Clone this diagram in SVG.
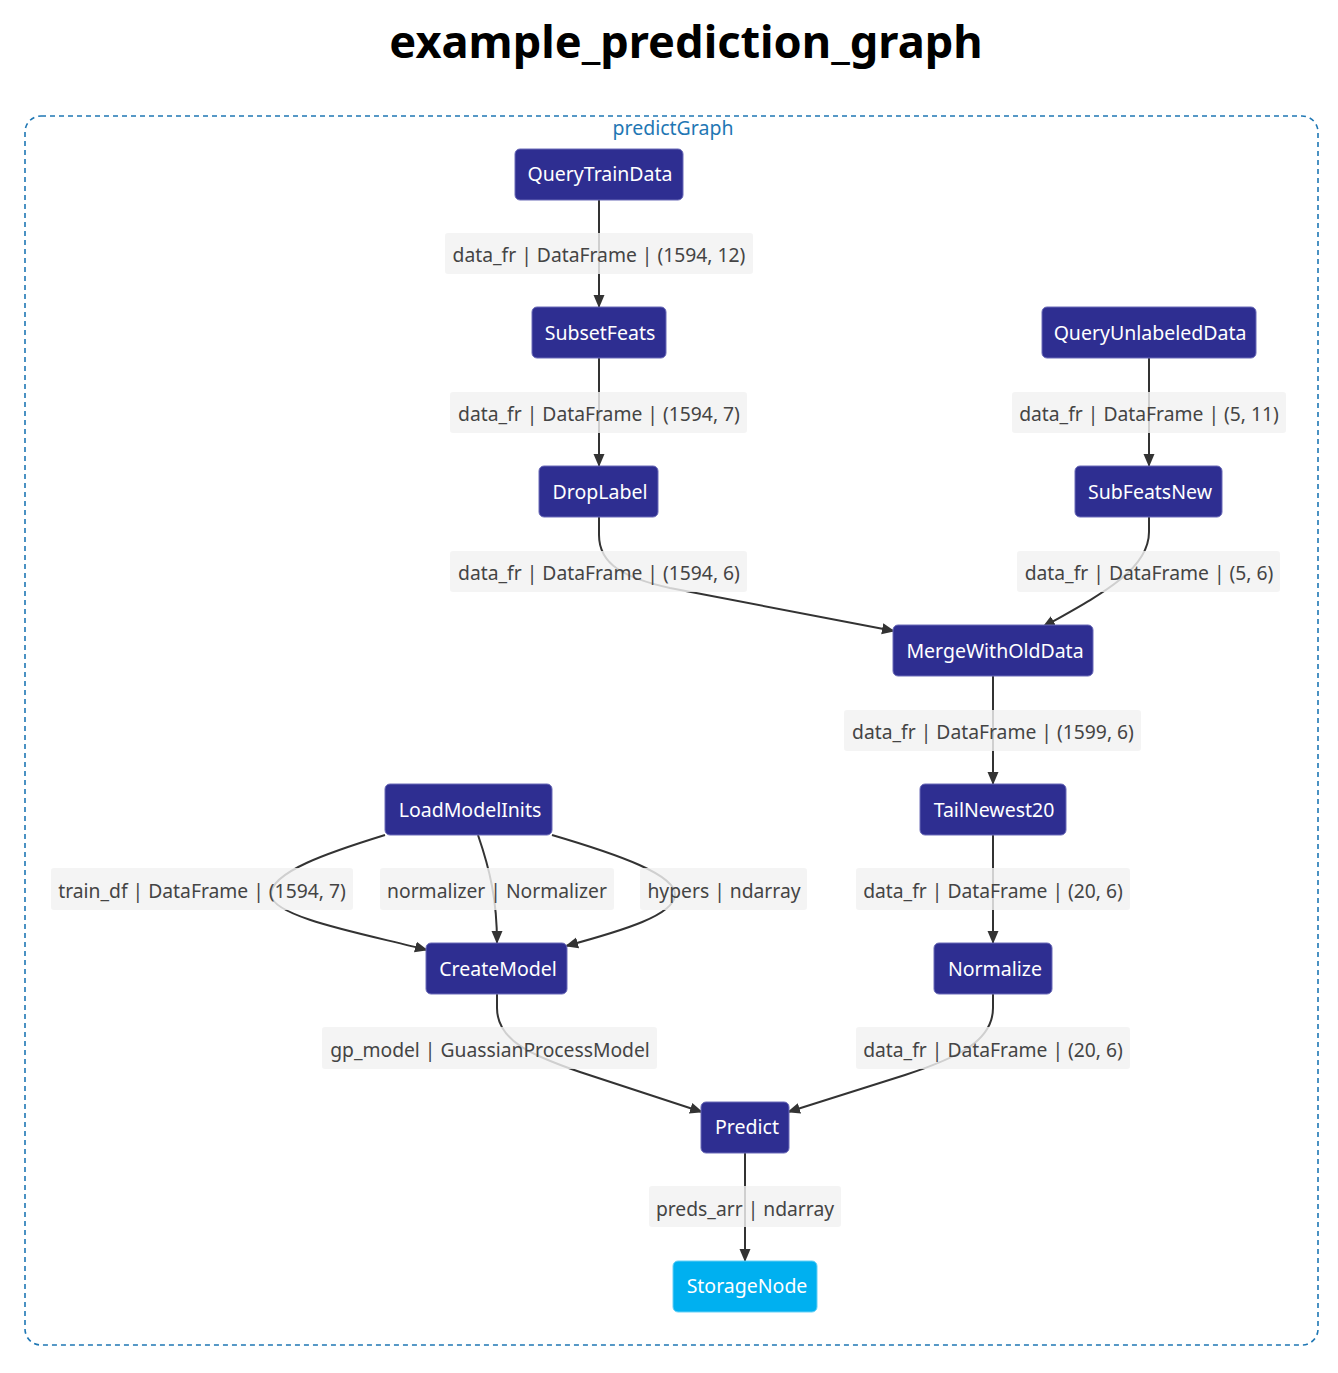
<svg xmlns="http://www.w3.org/2000/svg" width="1338" height="1373" viewBox="0 0 1338 1373">
<style>
.title{font-family:"Noto Sans","Open Sans",sans-serif;font-weight:bold;font-size:45.2px;fill:#000;text-anchor:middle}
.cl{font-family:"Noto Sans","Open Sans",sans-serif;font-size:19.5px;fill:#1f77b4;text-anchor:middle}
.node rect{fill:#2e2e91;stroke:#6a6ab8;stroke-width:1}
.node text{font-family:"Noto Sans","Open Sans",sans-serif;font-size:19.5px;fill:#fff;text-anchor:middle;dominant-baseline:central}
.store rect{fill:#00b0f0;stroke:#66d0f6}
.edge{fill:none;stroke:#333;stroke-width:2}
.lbl rect{fill:#f2f2f2;fill-opacity:0.82}
.lbl text{font-family:"Noto Sans","Open Sans",sans-serif;font-size:19.3px;fill:#444;text-anchor:middle;dominant-baseline:central}
</style>
<defs>
<marker id="arr" viewBox="0 0 13 13" refX="12" refY="6.5" markerWidth="13" markerHeight="13" markerUnits="userSpaceOnUse" orient="auto">
<path d="M0,1 L13,6.5 L0,12 z" fill="#333"/>
</marker>
</defs>
<rect width="1338" height="1373" fill="#fff"/>
<text class="title" x="686" y="58">example_prediction_graph</text>
<g id="cluster-predictGraph">
<rect x="25" y="116" width="1293" height="1229" rx="16" fill="none" stroke="#1f77b4" stroke-width="1.6" stroke-dasharray="5,4"/>
<text class="cl" x="673" y="135">predictGraph</text>
</g>
<g id="connectors">
<path class="edge" marker-end="url(#arr)" d="M599,199 V307"/>
<path class="edge" marker-end="url(#arr)" d="M599,358 V466"/>
<path class="edge" marker-end="url(#arr)" d="M1149,358 V466"/>
<path class="edge" marker-end="url(#arr)" d="M599,517 V535 C599,565 625,578 670,588 L894,631"/>
<path class="edge" marker-end="url(#arr)" d="M1149,517 V532 C1149,570 1100,595 1043,627"/>
<path class="edge" marker-end="url(#arr)" d="M993,676 V784"/>
<path class="edge" marker-end="url(#arr)" d="M385,835 C330,852 270,872 271,895 C273,918 370,935 427,950"/>
<path class="edge" marker-end="url(#arr)" d="M478,835 C490,870 497,900 497,943"/>
<path class="edge" marker-end="url(#arr)" d="M552,835 C620,855 676,875 675,895 C674,915 625,930 566,946"/>
<path class="edge" marker-end="url(#arr)" d="M993,835 V943"/>
<path class="edge" marker-end="url(#arr)" d="M497,994 V1008 C497,1040 530,1055 580,1072 L702,1112"/>
<path class="edge" marker-end="url(#arr)" d="M993,994 V1008 C993,1040 960,1057 905,1075 L788,1112"/>
<path class="edge" marker-end="url(#arr)" d="M745,1153 V1261"/>
</g>
<g id="edge-labels">
<g class="lbl"><rect x="445" y="233" width="308" height="41" rx="3"/><text x="599" y="254">data_fr | DataFrame | (1594, 12)</text></g>
<g class="lbl"><rect x="450" y="392" width="297" height="41" rx="3"/><text x="599" y="413">data_fr | DataFrame | (1594, 7)</text></g>
<g class="lbl"><rect x="1012" y="392" width="274" height="41" rx="3"/><text x="1149" y="413">data_fr | DataFrame | (5, 11)</text></g>
<g class="lbl"><rect x="450" y="551" width="297" height="41" rx="3"/><text x="599" y="572">data_fr | DataFrame | (1594, 6)</text></g>
<g class="lbl"><rect x="1017" y="551" width="263" height="41" rx="3"/><text x="1149" y="572">data_fr | DataFrame | (5, 6)</text></g>
<g class="lbl"><rect x="844" y="710" width="297" height="41" rx="3"/><text x="993" y="731">data_fr | DataFrame | (1599, 6)</text></g>
<g class="lbl"><rect x="51" y="868" width="302" height="42" rx="3"/><text x="202" y="890">train_df | DataFrame | (1594, 7)</text></g>
<g class="lbl"><rect x="380" y="868" width="234" height="42" rx="3"/><text x="497" y="890">normalizer | Normalizer</text></g>
<g class="lbl"><rect x="640" y="868" width="167" height="42" rx="3"/><text x="724" y="890">hypers | ndarray</text></g>
<g class="lbl"><rect x="856" y="868" width="274" height="42" rx="3"/><text x="993" y="890">data_fr | DataFrame | (20, 6)</text></g>
<g class="lbl"><rect x="322" y="1027" width="335" height="42" rx="3"/><text x="490" y="1049">gp_model | GuassianProcessModel</text></g>
<g class="lbl"><rect x="856" y="1027" width="274" height="42" rx="3"/><text x="993" y="1049">data_fr | DataFrame | (20, 6)</text></g>
<g class="lbl"><rect x="649" y="1186" width="192" height="41" rx="3"/><text x="745" y="1208">preds_arr | ndarray</text></g>
</g>
<g id="QueryTrainData" class="node"><rect x="515" y="149" width="168" height="51" rx="5"/><text x="600" y="173">QueryTrainData</text></g>
<g id="SubsetFeats" class="node"><rect x="532" y="307" width="134" height="51" rx="5"/><text x="600" y="332">SubsetFeats</text></g>
<g id="DropLabel" class="node"><rect x="539" y="466" width="119" height="51" rx="5"/><text x="600" y="491">DropLabel</text></g>
<g id="QueryUnlabeledData" class="node"><rect x="1042" y="307" width="214" height="51" rx="5"/><text x="1150" y="332">QueryUnlabeledData</text></g>
<g id="SubFeatsNew" class="node"><rect x="1075" y="466" width="147" height="51" rx="5"/><text x="1150" y="491">SubFeatsNew</text></g>
<g id="MergeWithOldData" class="node"><rect x="893" y="625" width="200" height="51" rx="5"/><text x="995" y="650">MergeWithOldData</text></g>
<g id="TailNewest20" class="node"><rect x="920" y="784" width="146" height="51" rx="5"/><text x="994" y="809">TailNewest20</text></g>
<g id="Normalize" class="node"><rect x="934" y="943" width="118" height="51" rx="5"/><text x="995" y="968">Normalize</text></g>
<g id="LoadModelInits" class="node"><rect x="385" y="784" width="167" height="51" rx="5"/><text x="470" y="809">LoadModelInits</text></g>
<g id="CreateModel" class="node"><rect x="426" y="943" width="141" height="51" rx="5"/><text x="498" y="968">CreateModel</text></g>
<g id="Predict" class="node"><rect x="701" y="1102" width="88" height="51" rx="5"/><text x="747" y="1126">Predict</text></g>
<g id="StorageNode" class="node store"><rect x="673" y="1261" width="144" height="51" rx="5"/><text x="747" y="1285">StorageNode</text></g>
</svg>
